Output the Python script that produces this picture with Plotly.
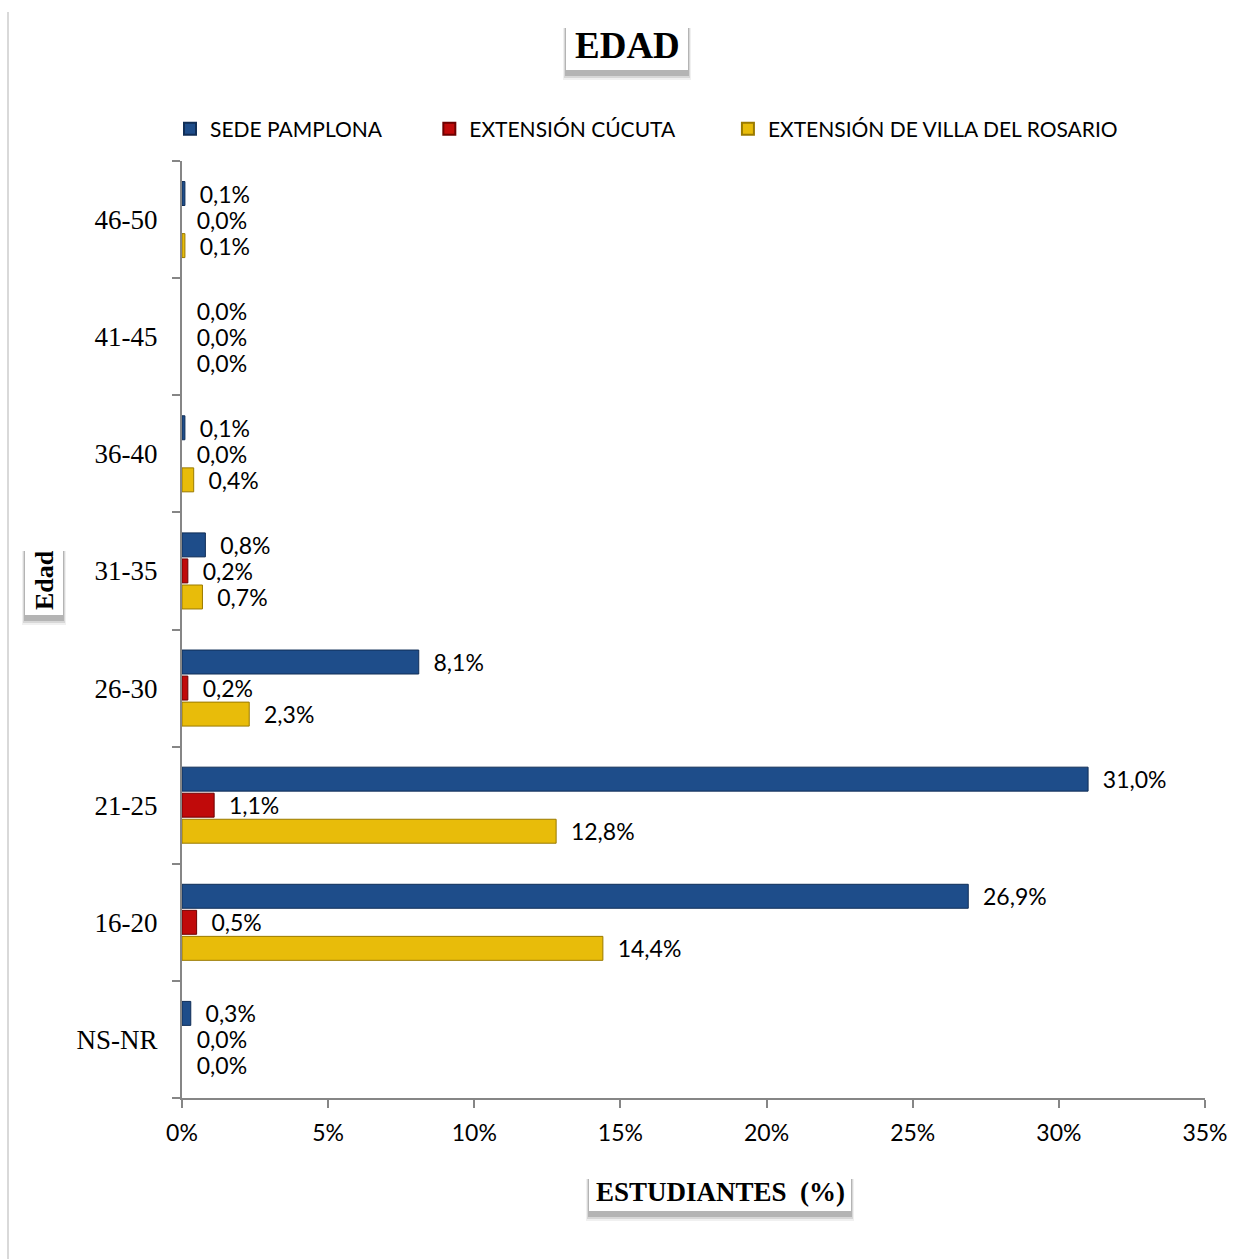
import plotly.graph_objects as go

categories = ["NS-NR", "16-20", "21-25", "26-30", "31-35", "36-40", "41-45", "46-50"]
sede_pamplona = [0.3, 26.9, 31.0, 8.1, 0.8, 0.1, 0.0, 0.1]
ext_cucuta = [0.0, 0.5, 1.1, 0.2, 0.2, 0.0, 0.0, 0.0]
ext_villa = [0.0, 14.4, 12.8, 2.3, 0.7, 0.4, 0.0, 0.1]
x_ticks = [0, 5, 10, 15, 20, 25, 30, 35]
x_tick_labels = ["0%", "5%", "10%", "15%", "20%", "25%", "30%", "35%"]

W, H = 1234, 1259
L, R, T, B = 182, 1205, 161, 1098


def px_x(p):
    return (p - L) / (R - L)


def px_y(p):
    return (B - p) / (B - T)


def lab(vals):
    return ["\u00a0\u00a0" + f"{v:.1f}%".replace(".", ",") for v in vals]


fig = go.Figure()
series = [
    ("EXTENSIÓN DE VILLA DEL ROSARIO", ext_villa, "#E8BC0A", "#9A7A00"),
    ("EXTENSIÓN CÚCUTA", ext_cucuta, "#C00A0A", "#6E0000"),
    ("SEDE PAMPLONA", sede_pamplona, "#1E4D8A", "#102E57"),
]
legend_names = {
    "SEDE PAMPLONA": "SEDE PAMPLONA" + "\u00a0" * 8,
    "EXTENSIÓN CÚCUTA": "EXTENSIÓN CÚCUTA" + "\u00a0" * 9,
    "EXTENSIÓN DE VILLA DEL ROSARIO": "EXTENSIÓN DE VILLA DEL ROSARIO",
}
for name, vals, col, lc in series:
    fig.add_trace(go.Bar(
        y=categories, x=vals, name=legend_names[name], orientation="h",
        marker=dict(color=col, line=dict(color=lc,
                                         width=[1 if v > 0 else 0 for v in vals])),
        text=lab(vals), textposition="outside", cliponaxis=False,
        constraintext="none",
        textfont=dict(family="Lato", size=23, color="black"),
        hoverinfo="x+y",
    ))

fig.update_layout(
    width=W, height=H,
    margin=dict(l=L, r=W - R, t=T, b=H - B, pad=0, autoexpand=False),
    paper_bgcolor="white", plot_bgcolor="white",
    barmode="group", bargap=0.333, bargroupgap=0.08,
    showlegend=True,
    legend=dict(
        orientation="h", traceorder="reversed",
        x=px_x(170), xanchor="left", y=px_y(129), yanchor="middle",
        font=dict(family="Lato", size=21, color="black"),
        itemsizing="constant", bgcolor="rgba(0,0,0,0)",
    ),
    xaxis=dict(
        range=[0, 35], tickmode="array", tickvals=x_ticks, ticktext=x_tick_labels,
        showgrid=False, zeroline=False, showline=True, automargin=False,
        linecolor="#868686", linewidth=2, ticks="outside", ticklen=8,
        tickcolor="#868686", tickwidth=2, ticklabelstandoff=5,
        tickfont=dict(family="Lato", size=23, color="black"),
        fixedrange=True,
    ),
    yaxis=dict(
        showgrid=False, zeroline=False, showline=True, automargin=False,
        linecolor="#868686", linewidth=2, ticks="outside", ticklen=8,
        tickcolor="#868686", tickwidth=2, tickson="boundaries",
        ticklabelstandoff=17,
        tickfont=dict(family="Liberation Serif", size=27, color="black"),
        fixedrange=True,
    ),
)

shapes = []
annotations = []


def boxed(text, x0, y0, x1, y1, size, angle=0):
    # soft shadow, mostly below the box
    for i, op in enumerate([0.06, 0.10, 0.16]):
        d = 3 - i
        shapes.append(dict(
            type="rect", xref="paper", yref="paper",
            x0=px_x(x0 - d), x1=px_x(x1 + d),
            y0=px_y(y0 + 6), y1=px_y(y1 + 4 + d * 2),
            fillcolor=f"rgba(0,0,0,{op})", line=dict(width=0), layer="above",
        ))
    shapes.append(dict(
        type="rect", xref="paper", yref="paper",
        x0=px_x(x0), x1=px_x(x1), y0=px_y(y0), y1=px_y(y1),
        fillcolor="white", line=dict(width=0), layer="above",
    ))
    annotations.append(dict(
        text=f"<b>{text}</b>", xref="paper", yref="paper",
        x=px_x((x0 + x1) / 2), y=px_y((y0 + y1) / 2),
        xanchor="center", yanchor="middle", showarrow=False, textangle=angle,
        font=dict(family="Liberation Serif", size=size, color="black"),
    ))


boxed("EDAD", 566, 22, 688, 70, 37)
boxed("Edad", 25, 545, 63, 615, 26, angle=-90)
boxed("ESTUDIANTES\u00a0\u00a0(%)", 589, 1173, 851, 1211, 27)

# light frame line at left
shapes.append(dict(
    type="line", xref="paper", yref="paper",
    x0=px_x(8), x1=px_x(8), y0=px_y(12), y1=px_y(1259),
    line=dict(color="#D9D9D9", width=2), layer="below",
))

fig.update_layout(shapes=shapes, annotations=annotations)
fig.write_html("out.html", config={"displayModeBar": False},
               post_script="document.body.style.margin='0';")
